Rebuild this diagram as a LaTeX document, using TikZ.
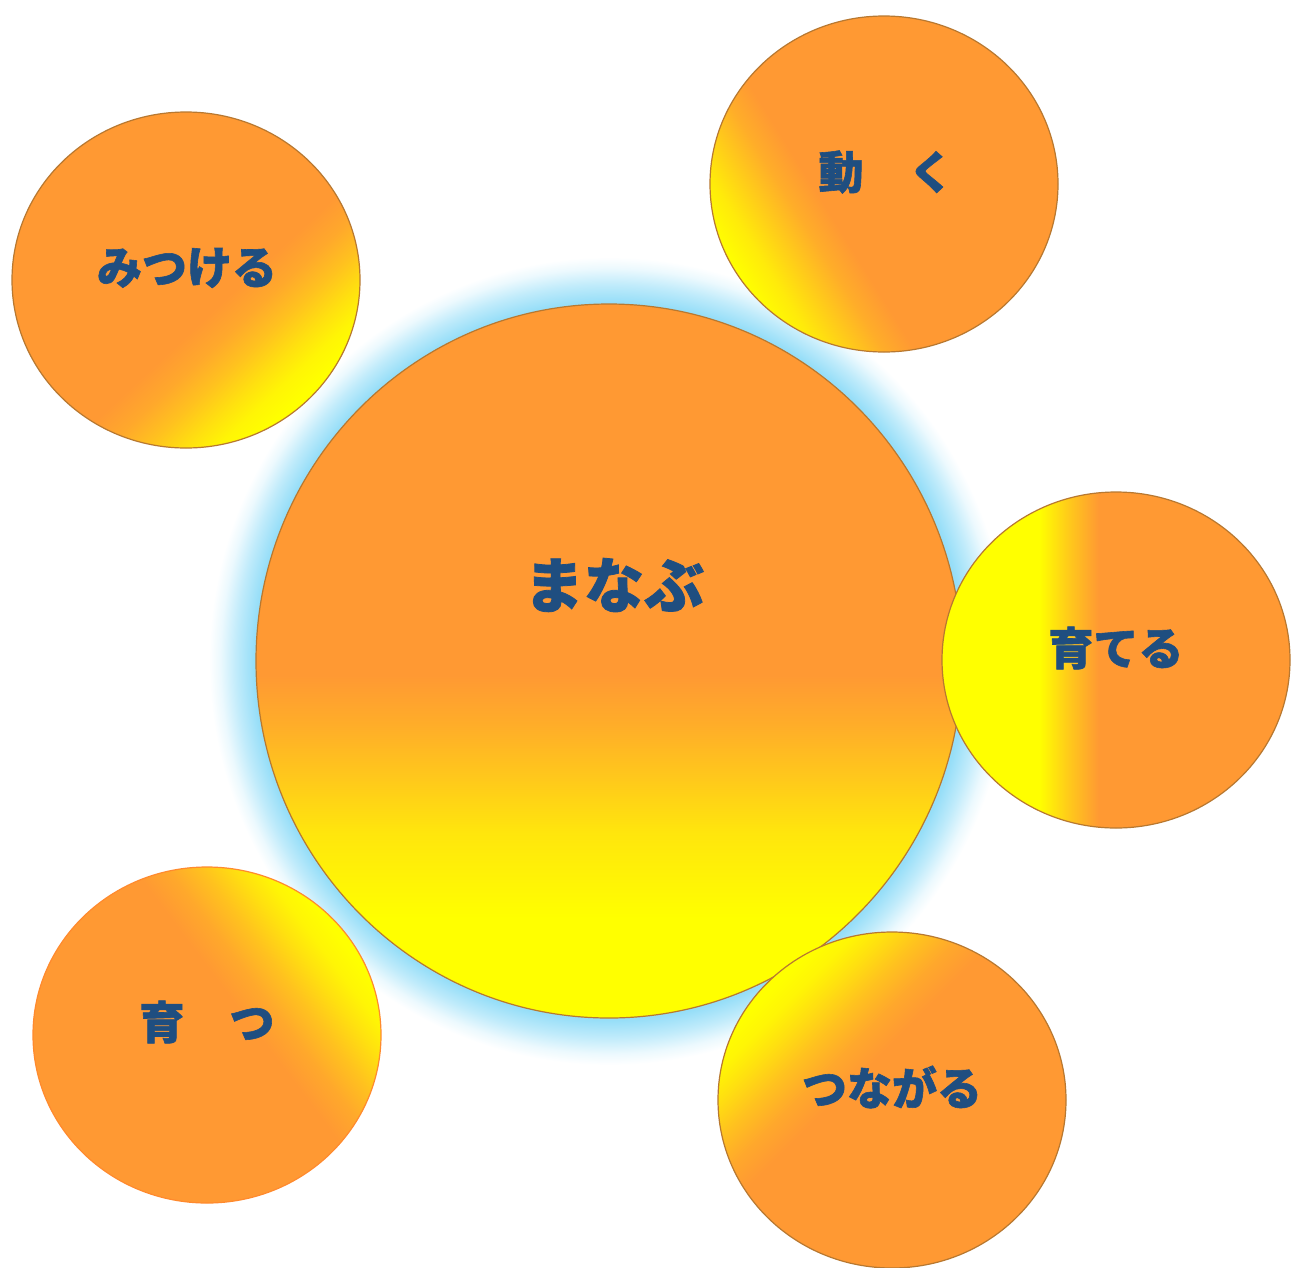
\documentclass[tikz,border=0pt]{standalone}
\usepackage{fontspec}
\usetikzlibrary{shapes.geometric}
\newfontfamily\jp{Noto Sans CJK JP}[BoldFeatures={FakeBold=1.3}]
\definecolor{org}{RGB}{255,153,51}
\definecolor{yel}{RGB}{255,255,0}
\definecolor{txt}{RGB}{31,78,128}
\definecolor{rim}{RGB}{184,120,48}
\definecolor{glowc}{RGB}{150,222,248}
\pgfdeclareverticalshading{mainsh}{100bp}{color(0bp)=(yel); color(32bp)=(yel); color(38bp)=(yel!75!org); color(42bp)=(yel!45!org); color(45.5bp)=(yel!20!org); color(49bp)=(org); color(100bp)=(org)}
\pgfdeclarehorizontalshading{sodsh}{100bp}{color(0bp)=(yel); color(39bp)=(yel); color(43bp)=(yel!50!org); color(47.5bp)=(org); color(100bp)=(org)}
\pgfdeclareverticalshading{diagsh}{100bp}{color(0bp)=(org); color(56bp)=(org); color(60bp)=(yel!15!org); color(64bp)=(yel!40!org); color(68bp)=(yel!70!org); color(71bp)=(yel!90!org); color(74bp)=(yel); color(100bp)=(yel)}
\pgfdeclareverticalshading{diaglate}{100bp}{color(0bp)=(org); color(59bp)=(org); color(63bp)=(yel!20!org); color(67bp)=(yel!50!org); color(71bp)=(yel!80!org); color(75bp)=(yel); color(100bp)=(yel)}
\pgfdeclareradialshading{glowsh}{\pgfpoint{0bp}{0bp}}{color(0bp)=(glowc); color(22.2bp)=(glowc); color(23.3bp)=(glowc!60!white); color(24.3bp)=(glowc!18!white); color(25bp)=(white); color(50bp)=(white)}
\tikzset{
  smallc/.style={ellipse, inner sep=0pt, minimum width=348pt, minimum height=336pt, draw=rim, line width=1.2pt},
  lbl/.style={text=txt, inner sep=0pt, font=\jp\bfseries\fontsize{45pt}{45pt}\selectfont},
  biglbl/.style={text=txt, inner sep=0pt, font=\jp\bfseries\fontsize{60pt}{60pt}\selectfont}
}
\begin{document}
\begin{tikzpicture}[x=1pt,y=-1pt]
\useasboundingbox[fill=white] (0,0) rectangle (1298,1267);
% glow and central circle
\node[ellipse, inner sep=0pt, minimum width=800pt, minimum height=808pt, shading=glowsh] (glow) at (609,661) {};
\node[ellipse, inner sep=0pt, minimum width=706pt, minimum height=714pt, shading=mainsh, draw=rim, line width=1.2pt] (main) at (609,661) {};
\node[biglbl] (tmain) at (614,585) {まなぶ};
% small circles
\node[smallc, shading=diagsh, shading angle=-137] (mitsu) at (186,280) {};
\node[lbl] (tmitsu) at (187,268) {みつける};
\node[smallc, shading=diaglate, shading angle=122] (ugoku) at (884,184) {};
\node[lbl] (tugoku) at (886,172) {動　く};
\node[smallc, shading=sodsh] (sodateru) at (1116,660) {};
\node[lbl] (tsodateru) at (1116,648) {育てる};
\node[smallc, shading=diagsh, shading angle=-53, draw=org!90!red] (sodatsu) at (207,1035) {};
\node[lbl] (tsodatsu) at (207,1022) {育　つ};
\node[smallc, shading=diagsh, shading angle=45] (tsunagaru) at (892,1100) {};
\node[lbl] (ttsunagaru) at (892,1087) {つながる};
\end{tikzpicture}
\end{document}
